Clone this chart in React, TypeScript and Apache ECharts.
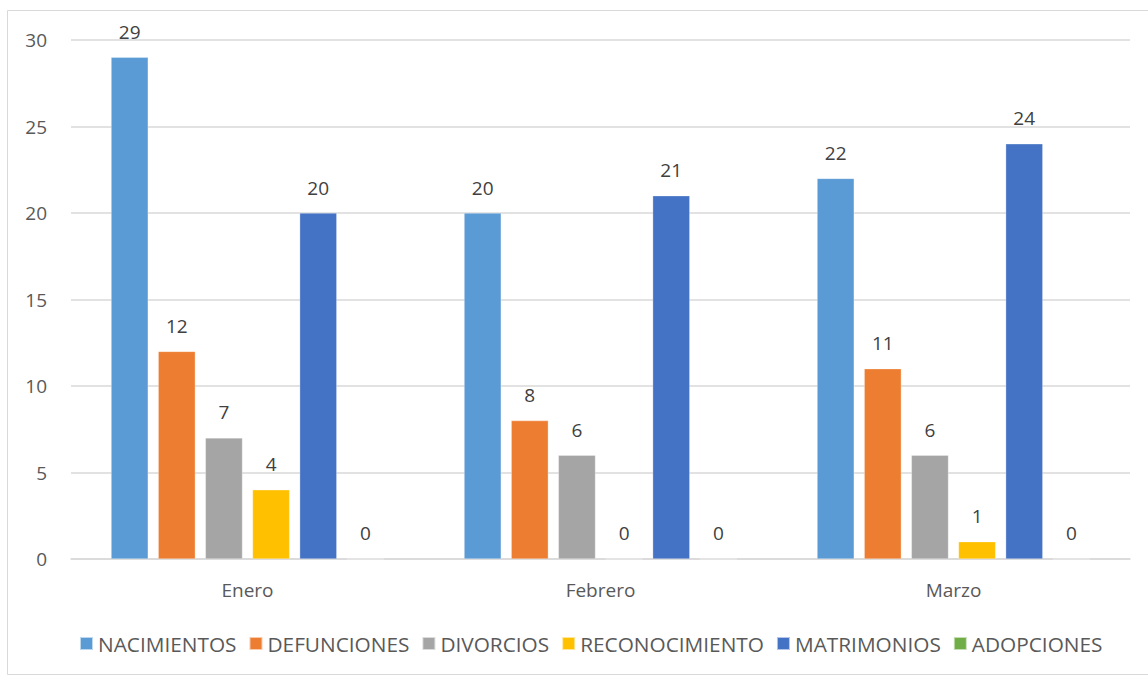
import React, { useEffect, useRef } from "react";
import * as echarts from "echarts";

const categories = ["Enero", "Febrero", "Marzo"];
const seriesNames = ["NACIMIENTOS", "DEFUNCIONES", "DIVORCIOS", "RECONOCIMIENTO", "MATRIMONIOS", "ADOPCIONES"];
const nacimientos = [29, 20, 22];
const defunciones = [12, 8, 11];
const divorcios = [7, 6, 6];
const reconocimiento = [4, 0, 1];
const matrimonios = [20, 21, 24];
const adopciones = [0, 0, 0];
const colors = ["#5B9BD5", "#ED7D31", "#A5A5A5", "#FFC000", "#4472C4", "#70AD47"];

const FONT = "'Open Sans', 'Noto Sans', sans-serif";

export default function App() {
  const ref = useRef<HTMLDivElement>(null);
  useEffect(() => {
    document.body.style.margin = "0";
    const chart = echarts.init(ref.current!, undefined, { renderer: "svg" });
    const allData = [nacimientos, defunciones, divorcios, reconocimiento, matrimonios, adopciones];
    chart.setOption({
      animation: false,
      backgroundColor: "#ffffff",
      textStyle: { fontFamily: FONT },
      graphic: [
        {
          type: "rect",
          shape: { x: 7.5, y: 10.5, width: 1141, height: 664 },
          style: { fill: "none", stroke: "#d9d9d9", lineWidth: 1 },
          z: -1,
        },
      ],
      grid: { left: 71, right: 18, top: 40, bottom: 118 },
      legend: {
        top: 628,
        left: 74,
        itemWidth: 13,
        itemHeight: 13,
        itemGap: 12,
        icon: "rect",
        textStyle: { fontSize: 20.8, color: "#595959", fontFamily: FONT },
        data: seriesNames,
      },
      xAxis: {
        type: "category",
        data: categories,
        axisLine: { lineStyle: { color: "#d9d9d9", width: 1.5 } },
        axisTick: { show: false },
        axisLabel: { fontSize: 19, color: "#595959", margin: 21, fontFamily: FONT },
      },
      yAxis: {
        type: "value",
        min: 0,
        max: 30,
        interval: 5,
        axisLine: { show: false },
        axisTick: { show: false },
        splitLine: { lineStyle: { color: "#d9d9d9", width: 1.5 } },
        axisLabel: { fontSize: 19, color: "#595959", margin: 24, fontFamily: FONT },
      },
      series: seriesNames.map((name, i) => ({
        name,
        type: "bar",
        data: allData[i],
        barGap: "27%",
        barCategoryGap: "22.7%",
        itemStyle: { color: colors[i], borderColor: "rgba(255,255,255,0.6)", borderWidth: 0.5 },
        label: {
          show: true,
          position: "top",
          distance: 16,
          fontSize: 19,
          color: "#404040",
          fontFamily: FONT,
        },
      })),
    });
    return () => chart.dispose();
  }, []);
  return <div ref={ref} style={{ width: 1148, height: 677 }} />;
}
